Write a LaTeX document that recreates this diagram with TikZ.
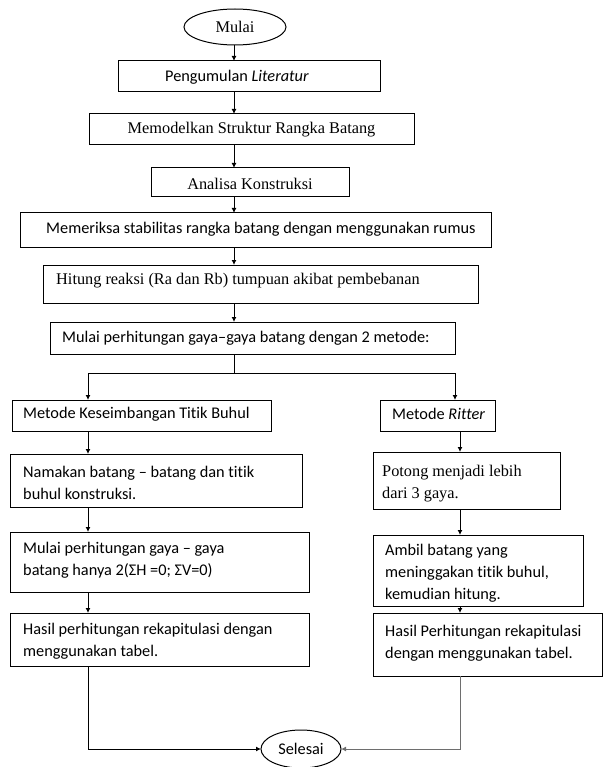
\documentclass[tikz,border=0pt]{standalone}
\usepackage{fontspec}
\setmainfont{Liberation Serif}
\newfontfamily\sansc[Ligatures=NoCommon]{Carlito}
\usetikzlibrary{arrows.meta,shapes.geometric}
\begin{document}
\begin{tikzpicture}[x=1pt,y=-1pt,
  box/.style={draw, line width=1pt, inner sep=0pt, outer sep=0pt},
  oval/.style={draw, ellipse, line width=1pt, inner sep=0pt, outer sep=0pt},
  arr/.style={-{Latex[length=5pt,width=5pt]}, line width=1pt},
  ln/.style={line width=1pt},
  txt/.style={inner sep=0pt, anchor=west, align=left, font=\sansc\fontsize{16.3}{22}\selectfont},
  stxt/.style={inner sep=0pt, anchor=west, align=left, font=\rmfamily\fontsize{16.3}{22}\selectfont}]
\useasboundingbox (0,0) rectangle (603,767);
% ovals
\node[oval, minimum width=102pt, minimum height=36pt, font=\rmfamily\fontsize{16.3}{22}\selectfont] (mulai) at (235,27) {Mulai};
\node[oval, minimum width=80pt, minimum height=38pt, font=\sansc\fontsize{16.3}{22}\selectfont] (selesai) at (301,749) {Selesai};
% main column boxes
\node[box, minimum width=262pt, minimum height=31pt] (b1) at (249,76.5) {};
\node[box, minimum width=325pt, minimum height=31pt] (b2) at (251.5,129.5) {};
\node[box, minimum width=198pt, minimum height=29pt] (b3) at (250,182.5) {};
\node[box, minimum width=471pt, minimum height=34pt] (b4) at (255.5,230) {};
\node[box, minimum width=435pt, minimum height=38pt] (b5) at (260.5,284) {};
\node[box, minimum width=405pt, minimum height=32pt] (b6) at (252.5,338) {};
% left column
\node[box, minimum width=259pt, minimum height=31pt] (l1) at (141.5,415.5) {};
\node[box, minimum width=292pt, minimum height=53pt] (l2) at (156,480.5) {};
\node[box, minimum width=299pt, minimum height=60pt] (l3) at (159.5,562) {};
\node[box, minimum width=299pt, minimum height=53pt] (l4) at (159.5,639.5) {};
% right column
\node[box, minimum width=115pt, minimum height=31pt] (r1) at (437.5,415.5) {};
\node[box, minimum width=187pt, minimum height=57pt] (r2) at (466.5,480.5) {};
\node[box, minimum width=210pt, minimum height=71pt] (r3) at (478,570.5) {};
\node[box, minimum width=229pt, minimum height=63pt] (r4) at (487.5,644.5) {};
% texts
\node[txt] (t1) at (165,77) {Pengumulan \textit{Literatur}};
\node[stxt, anchor=center] (t2) at (251.5,130) {Memodelkan Struktur Rangka Batang};
\node[stxt, anchor=center] (t3) at (250,183.5) {Analisa Konstruksi};
\node[txt] (t4) at (46,229) {Memeriksa stabilitas rangka batang dengan menggunakan rumus};
\node[stxt] (t5) at (56,281) {Hitung reaksi (Ra dan Rb) tumpuan akibat pembebanan};
\node[txt] (t6) at (62,338) {Mulai perhitungan gaya–gaya batang dengan 2 metode:};
\node[txt] (tl1) at (23,414) {Metode Keseimbangan Titik Buhul};
\node[txt] (tr1) at (392,414) {Metode \textit{Ritter}};
\node[txt] (tl2) at (23,483) {Namakan batang – batang dan titik\\buhul konstruksi.};
\node[stxt] (tr2) at (382,484) {Potong menjadi lebih\\dari 3 gaya.};
\node[txt] (tl3) at (23,560) {Mulai perhitungan gaya – gaya\\batang hanya 2(ΣH =0; ΣV=0)};
\node[txt] (tr3) at (385,573) {Ambil batang yang\\meninggakan titik buhul,\\kemudian hitung.};
\node[txt] (tl4) at (23,641) {Hasil perhitungan rekapitulasi dengan\\menggunakan tabel.};
\node[txt] (tr4) at (385,643) {Hasil Perhitungan rekapitulasi\\dengan menggunakan tabel.};
% axes
\coordinate (ax) at (234,0);
\coordinate (lx) at (88,0);
\coordinate (rx) at (455,0);
\coordinate (rx2) at (460,0);
\coordinate (br) at (234,373);
% main connectors
\draw[arr] (ax |- mulai.south) -- (ax |- b1.north);
\draw[arr] (ax |- b1.south) -- (ax |- b2.north);
\draw[arr] (ax |- b2.south) -- (ax |- b3.north);
\draw[arr] (ax |- b3.south) -- (ax |- b4.north);
\draw[arr] (ax |- b4.south) -- (ax |- b5.north);
\draw[arr] (ax |- b5.south) -- (ax |- b6.north);
\draw[ln] (ax |- b6.south) -- (br);
\draw[arr] (br) -| (lx |- l1.north);
\draw[arr] (br) -| (rx |- r1.north);
% left connectors
\draw[arr] (lx |- l1.south) -- (lx |- l2.north);
\draw[arr] (lx |- l2.south) -- (lx |- l3.north);
\draw[arr] (lx |- l3.south) -- (lx |- l4.north);
\draw[arr] (lx |- l4.south) |- (selesai.west);
% right connectors
\draw[arr] (rx2 |- r1.south) -- (rx2 |- r2.north);
\draw[arr] (rx2 |- r2.south) -- (rx2 |- r3.north);
\draw[arr] (rx2 |- r3.south) -- (rx2 |- r4.north);
\draw[arr, draw={rgb,255:red,110;green,110;blue,110}] (rx2 |- r4.south) |- (selesai.east);
\end{tikzpicture}
\end{document}
